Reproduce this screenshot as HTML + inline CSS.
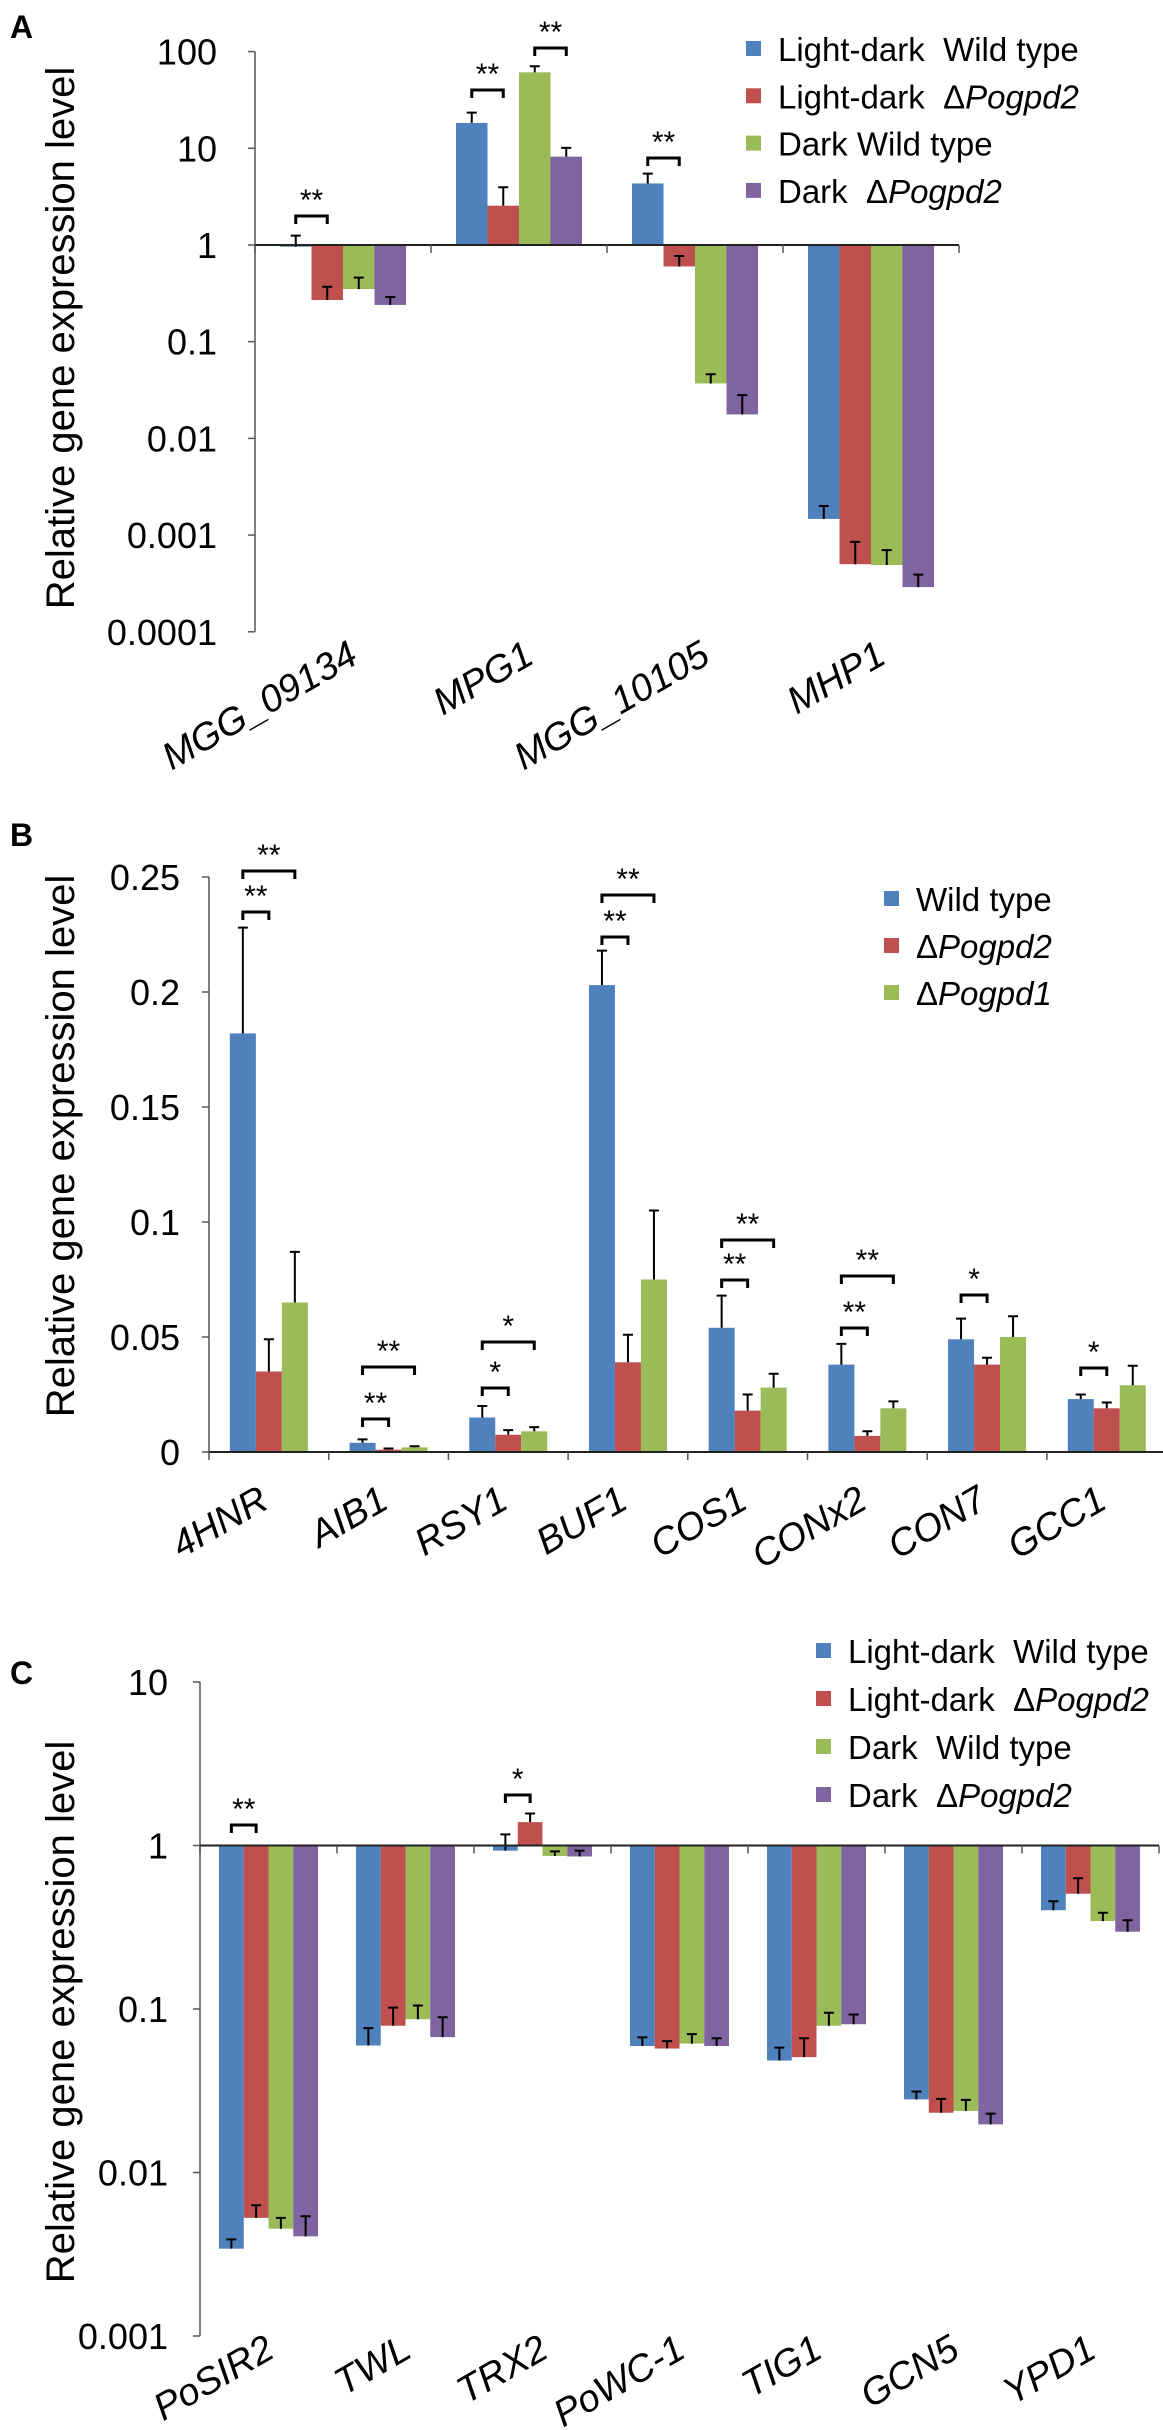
<!DOCTYPE html>
<html><head><meta charset="utf-8">
<style>
html,body{margin:0;padding:0;background:#fff;}
svg{display:block;font-family:"Liberation Sans",Arial,sans-serif;}
text{white-space:pre;}
</style></head>
<body>
<svg id="fig" width="1163" height="2430" viewBox="0 0 1163 2430" xmlns="http://www.w3.org/2000/svg">
<text x="10" y="38" font-size="32" font-weight="bold">A</text>
<text x="10" y="846" font-size="32" font-weight="bold">B</text>
<text x="10" y="1684" font-size="32" font-weight="bold">C</text>
</svg>
<script>
// ---------- Panel A data ----------
const catsA = ["MGG_09134","MPG1","MGG_10105","MHP1"];
const ldWtA   = [0.96, 18.3, 4.33, 0.00147];
const ldMutA  = [0.27, 2.55, 0.60, 0.00050];
const dWtA    = [0.35, 61, 0.037, 0.00049];
const dMutA   = [0.24, 8.2, 0.0177, 0.00029];
const ldWtErrA  = [1.25, 23.4, 5.47, 0.0020];
const ldMutErrA = [0.37, 3.95, 0.77, 0.00085];
const dWtErrA   = [0.46, 70.5, 0.046, 0.0007];
const dMutErrA  = [0.29, 10.1, 0.028, 0.00039];
const ticksA = [100,10,1,0.1,0.01,0.001,0.0001];
const tickLabelsA = ["100","10","1","0.1","0.01","0.001","0.0001"];

// ---------- Panel B data ----------
const catsB = ["4HNR","AIB1","RSY1","BUF1","COS1","CONx2","CON7","GCC1"];
const wtB   = [0.182, 0.004, 0.015, 0.203, 0.054, 0.038, 0.049, 0.023];
const pd2B  = [0.035, 0.001, 0.0075, 0.039, 0.018, 0.007, 0.038, 0.019];
const pd1B  = [0.065, 0.002, 0.009, 0.075, 0.028, 0.019, 0.050, 0.029];
const wtErrB  = [0.228, 0.0055, 0.020, 0.218, 0.068, 0.047, 0.058, 0.025];
const pd2ErrB = [0.049, 0.0015, 0.0095, 0.051, 0.025, 0.009, 0.041, 0.0215];
const pd1ErrB = [0.087, 0.0025, 0.0108, 0.105, 0.034, 0.022, 0.059, 0.0375];
const ticksB = [0,0.05,0.1,0.15,0.2,0.25];
const tickLabelsB = ["0","0.05","0.1","0.15","0.2","0.25"];

// ---------- Panel C data ----------
const catsC = ["PoSIR2","TWL","TRX2","PoWC-1","TIG1","GCN5","YPD1"];
const ldWtC  = [0.00342, 0.0598, 0.93, 0.0594, 0.0484, 0.028, 0.402];
const ldMutC = [0.00528, 0.079, 1.39, 0.0573, 0.0508, 0.0232, 0.507];
const dWtC   = [0.00453, 0.0866, 0.863, 0.0614, 0.079, 0.0238, 0.345];
const dMutC  = [0.00407, 0.0673, 0.857, 0.0594, 0.0807, 0.0197, 0.297];
const ldWtErrC  = [0.0039, 0.0764, 1.17, 0.067, 0.058, 0.0313, 0.456];
const ldMutErrC = [0.0063, 0.102, 1.57, 0.0636, 0.0662, 0.0282, 0.63];
const dWtErrC   = [0.00528, 0.105, 0.92, 0.0702, 0.0948, 0.0278, 0.388];
const dMutErrC  = [0.0054, 0.089, 0.93, 0.0662, 0.0926, 0.0229, 0.349];
const ticksC = [10,1,0.1,0.01,0.001];
const tickLabelsC = ["10","1","0.1","0.01","0.001"];

const COLORS = ["#4F81BD","#C0504D","#9BBB59","#8064A2"];
const NS = "http://www.w3.org/2000/svg";
const svg = document.getElementById("fig");

function mk(tag, attrs, parent){
  const e = document.createElementNS(NS, tag);
  for (const k in attrs) e.setAttribute(k, attrs[k]);
  (parent||svg).appendChild(e);
  return e;
}

function drawPanel(p){
  const g = mk("g", {});
  
  
  const yTop = p.y(p.ticks[0]);
  const yBot = p.y(p.ticks[p.ticks.length-1]);
  const xEnd = p.x0 + p.cats.length * p.cw;
  const ya = mk("line", {x1:p.x0, y1:Math.min(yTop,yBot), x2:p.x0, y2:Math.max(yTop,yBot), stroke:"#555", "stroke-width":1.5}, g);
  
  
  p.ticks.forEach((t,i)=>{
    const yy = p.y(t);
    mk("line",{x1:p.x0-7,y1:yy,x2:p.x0,y2:yy,stroke:"#555","stroke-width":1.5},g);
    const tl = mk("text",{x:p.labelX,y:yy+13,"font-size":36,"text-anchor":"end",fill:"#000"},g);
    tl.textContent = p.tickLabels[i];
    
    
  });
  p.series.forEach((vals, s)=>{
    vals.forEach((v, c)=>{
      const bx = p.x0 + c*p.cw + (p.cw - p.series.length*p.bw)/2 + s*p.bw;
      const yv = p.y(v), yb = p.baseY;
      const r = mk("rect",{x:bx, y:Math.min(yv,yb), width:p.bw, height:Math.max(Math.abs(yb-yv),1), fill:COLORS[s]}, g);
      
      
      const ye = p.y(p.errs[s][c]);
      const cx = bx + p.bw/2;
      const eb = mk("path",{d:`M${cx},${yv} V${ye} M${cx-5},${ye} H${cx+5}`, stroke:"#000","stroke-width":2, fill:"none"}, g);
      
      
    });
  });
  const xa = mk("line",{x1:p.x0,y1:p.baseY,x2:xEnd,y2:p.baseY,stroke:"#222","stroke-width":2},g);
  
  
  for (let c=0;c<=p.cats.length;c++){
    const xx = p.x0 + c*p.cw;
    mk("line",{x1:xx,y1:p.baseY,x2:xx,y2:p.baseY+8,stroke:"#555","stroke-width":1.5},g);
  }
  p.cats.forEach((name,c)=>{
    const cx = p.x0 + (c+0.5)*p.cw + p.labDx;
    const cy = p.labY;
    const t = mk("text",{x:cx,y:cy,"font-size":38,"font-style":"italic","text-anchor":"end",transform:`rotate(-30 ${cx} ${cy})`},g);
    t.textContent = name;
    
    
  });
  const yt = mk("text",{x:0,y:0,"font-size":40,"text-anchor":"middle",transform:`translate(74 ${p.titleY}) rotate(-90)`},g);
  yt.textContent = "Relative gene expression level";
  
  
  p.brackets.forEach(b=>{
    const c = b[0];
    const start = p.x0 + c*p.cw + (p.cw - p.series.length*p.bw)/2;
    const xa1 = start + (b[1]+0.5)*p.bw, xa2 = start + (b[2]+0.5)*p.bw;
    const br = mk("path",{d:`M${xa1},${b[3]+8} V${b[3]} H${xa2} V${b[3]+8}`,stroke:"#000","stroke-width":3,fill:"none"},g);
    
    
    const st = mk("text",{x:(xa1+xa2)/2,y:b[3]-6,"font-size":30,"text-anchor":"middle"},g);
    st.textContent = b[4];
    
    
  });
  p.legend.forEach((lab,i)=>{
    const ly = p.legY + i*p.legGap;
    const sq = mk("rect",{x:p.legX,y:ly-8,width:15,height:15,fill:COLORS[i]},g);
    
    
    const t = mk("text",{x:p.legX+32,y:ly+12,"font-size":33},g);
    
    
    t.appendChild(document.createTextNode(lab[0]));
    if (lab[1]){
      const ts = mk("tspan",{"font-style":"italic"},t);
      ts.textContent = lab[1];
    }
  });
}

(function(){
  const y1 = 245, dec = 96.7;
  drawPanel({
    id:"panel-a", cats:catsA, x0:255, cw:176, bw:31.5,
    y:v=>y1 - Math.log10(v)*dec, baseY:y1,
    ticks:ticksA, tickLabels:tickLabelsA, labelX:217,
    series:[ldWtA, ldMutA, dWtA, dMutA],
    errs:[ldWtErrA, ldMutErrA, dWtErrA, dMutErrA],
    labDx:17, labY:662, titleY:338,
    brackets:[[0,0,1,216,"**"],[1,0,1,90,"**"],[1,2,3,48,"**"],[2,0,1,158,"**"]],
    legend:[["Light-dark  Wild type",""],["Light-dark  \u0394","Pogpd2"],["Dark Wild type",""],["Dark  \u0394","Pogpd2"]],
    legX:746, legY:49, legGap:47.3
  });
})();

(function(){
  const y0 = 1452, k = 2300;
  drawPanel({
    id:"panel-b", cats:catsB, x0:209, cw:119.7, bw:26,
    y:v=>y0 - v*k, baseY:y0,
    ticks:ticksB.slice().reverse(), tickLabels:tickLabelsB.slice().reverse(), labelX:180,
    series:[wtB, pd2B, pd1B],
    errs:[wtErrB, pd2ErrB, pd1ErrB],
    labDx:2, labY:1507, titleY:1146,
    brackets:[[0,0,1,912,"**"],[0,0,2,871,"**"],[1,0,1,1419,"**"],[1,0,2,1367,"**"],
              [2,0,1,1388,"*"],[2,0,2,1342,"*"],[3,0,1,937,"**"],[3,0,2,895,"**"],
              [4,0,1,1280,"**"],[4,0,2,1240,"**"],[5,0,1,1328,"**"],[5,0,2,1276,"**"],
              [6,0,1,1295,"*"],[7,0,1,1368,"*"]],
    legend:[["Wild type",""],["\u0394","Pogpd2"],["\u0394","Pogpd1"]],
    legX:884, legY:899, legGap:47
  });
})();

(function(){
  const y1 = 1845.5, dec = 163.5;
  drawPanel({
    id:"panel-c", cats:catsC, x0:200, cw:137, bw:24.75,
    y:v=>y1 - Math.log10(v)*dec, baseY:y1,
    ticks:ticksC, tickLabels:tickLabelsC, labelX:168,
    series:[ldWtC, ldMutC, dWtC, dMutC],
    errs:[ldWtErrC, ldMutErrC, dWtErrC, dMutErrC],
    labDx:8, labY:2356, titleY:2012,
    brackets:[[0,0,1,1825,"**"],[2,0,1,1795,"*"]],
    legend:[["Light-dark  Wild type",""],["Light-dark  \u0394","Pogpd2"],["Dark  Wild type",""],["Dark  \u0394","Pogpd2"]],
    legX:816, legY:1651, legGap:48
  });
})();
</script>
</body></html>
